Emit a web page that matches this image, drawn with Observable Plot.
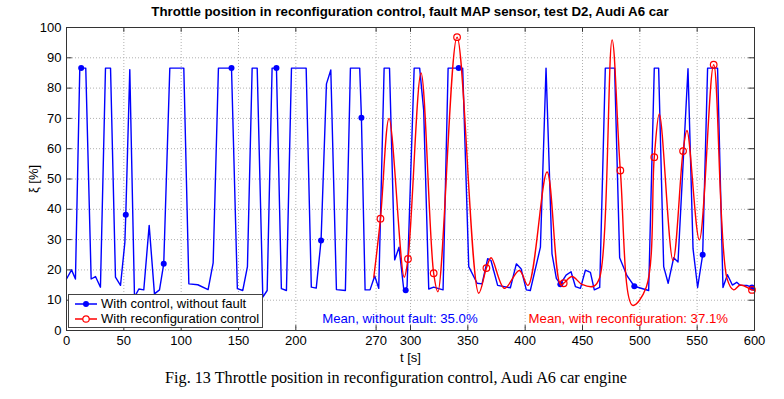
<!DOCTYPE html>
<html>
<head>
<meta charset="utf-8">
<script src="https://cdn.jsdelivr.net/npm/d3@7"></script>
<script src="https://cdn.jsdelivr.net/npm/@observablehq/plot@0.6"></script>
<style>
  body { margin: 0; background: #fff; }
  #wrap { position: relative; width: 784px; height: 399px; font-family: "Liberation Sans", Arial, sans-serif; }
  #title { position: absolute; left: 0; width: 820px; top: 4px; text-align: center; font-weight: bold; font-size: 13.3px; color: #000; }
  #caption { position: absolute; left: 0; width: 792px; top: 369px; text-align: center; font-family: "Liberation Serif", "Times New Roman", serif; font-size: 16.2px; color: #000; }
  #legend { position: absolute; left: 68px; top: 294px; width: 193px; height: 32px; border: 1px solid #444; background: #fff; font-size: 13px; }
  .row { position: absolute; left: 0; height: 15px; display: flex; align-items: center; white-space: nowrap; }
  .row svg { margin-left: 5px; margin-right: 3px; }
</style>
</head>
<body>
<div id="wrap">
  <div id="chart"></div>
  <div id="title">Throttle position in reconfiguration control, fault MAP sensor, test D2, Audi A6 car</div>
  <div id="legend">
    <div class="row" style="top:1px"><svg width="24" height="14"><line x1="1" y1="7" x2="23" y2="7" stroke="#0000ff" stroke-width="1.5"/><circle cx="12" cy="7" r="3" fill="#0000ff"/></svg><span>With control, without fault</span></div>
    <div class="row" style="top:16px"><svg width="24" height="14"><line x1="1" y1="7" x2="23" y2="7" stroke="#ff0000" stroke-width="1.5"/><circle cx="12" cy="7" r="3.2" fill="#fff" stroke="#ff0000" stroke-width="1.2"/></svg><span>With reconfiguration control</span></div>
  </div>
  <div id="caption">Fig. 13 Throttle position in reconfiguration control, Audi A6 car engine</div>
</div>
<script>
const xTicks = [0, 50, 100, 150, 200, 270, 300, 350, 400, 450, 500, 550, 600];
const yTicks = [0, 10, 20, 30, 40, 50, 60, 70, 80, 90, 100];

const blueT = [0, 4.4, 7.8, 11.6, 16.8, 21.5, 25.3, 29.6, 34.0, 38.4, 42.7, 47.1, 50.9, 51.7, 55.2, 59.3, 63.1, 67.4, 72.1, 76.7, 81.1, 84.8, 90.1, 102.3, 106.7, 114.5, 123.5, 127.9, 132.5, 143.9, 149.0, 153.7, 157.8, 161.9, 166.3, 171.2, 175.0, 179.3, 183.1, 187.4, 191.8, 196.2, 209.0, 213.5, 217.8, 222.0, 226.7, 230.5, 235.4, 243.2, 247.6, 255.7, 257.2, 260.4, 264.7, 268.8, 272.3, 277.0, 281.7, 286.2, 290.0, 294.1, 295.8, 297.0, 303.2, 308.0, 311.5, 315.9, 320.2, 328.4, 332.8, 342.0, 345.5, 350.8, 358.1, 362.4, 367.3, 370.2, 376.0, 387.1, 392.3, 396.4, 401.0, 404.5, 413.3, 418.2, 423.4, 427.2, 430.7, 435.7, 440.0, 443.8, 448.2, 452.5, 456.9, 460.3, 465.0, 469.9, 478.0, 482.4, 488.8, 495.2, 507.7, 512.6, 516.4, 520.8, 524.7, 529.5, 533.3, 542.0, 546.4, 550.4, 554.8, 559.1, 567.8, 572.5, 576.4, 580.7, 584.5, 587.4, 593.3, 597.8, 600];
const blueV = [17.0, 20.0, 17.0, 86.6, 86.6, 17.0, 17.8, 14.3, 86.6, 86.6, 17.6, 14.9, 29.1, 38.2, 86.1, 11.0, 13.7, 13.4, 34.7, 12.1, 13.4, 22.0, 86.6, 86.6, 15.4, 15.1, 13.5, 22.3, 86.6, 86.6, 13.8, 13.2, 21.1, 86.6, 86.6, 11.0, 13.2, 86.6, 86.6, 13.8, 13.2, 86.6, 86.6, 14.3, 14.0, 29.7, 81.4, 86.0, 13.5, 13.2, 86.6, 86.6, 70.2, 13.4, 13.4, 18.0, 13.9, 86.6, 86.6, 23.3, 27.5, 13.6, 13.3, 14.5, 86.6, 86.6, 72.6, 13.7, 14.3, 13.4, 86.6, 86.6, 86.6, 21.1, 15.6, 15.4, 23.7, 23.1, 14.9, 14.1, 22.0, 20.4, 13.4, 13.2, 27.5, 86.6, 25.3, 17.2, 15.3, 18.3, 19.4, 14.5, 13.9, 19.9, 19.2, 13.4, 14.2, 86.6, 86.6, 24.0, 18.1, 14.6, 13.2, 86.6, 86.6, 21.1, 15.6, 24.0, 22.6, 86.4, 27.0, 14.2, 25.0, 86.6, 86.6, 14.2, 18.4, 15.0, 15.9, 14.9, 14.9, 14.2, 14.0];

const redT = [268.0, 273.8, 281.3, 294.5, 297.8, 309.2, 320.2, 323.9, 340.6, 359.5, 366.2, 370.3, 381.9, 394.9, 402.5, 419.1, 430.7, 433.6, 440.9, 449.6, 459.8, 465.0, 475.8, 483.0, 493.7, 505.6, 512.6, 517.0, 528.9, 537.7, 541.1, 551.9, 564.4, 576.0, 581.8, 587.6, 597.8, 600];
const redV = [17.6, 36.9, 70.0, 17.6, 23.6, 85.0, 18.9, 12.8, 96.8, 12.3, 20.6, 24.0, 13.9, 19.8, 14.9, 52.3, 15.2, 15.6, 17.8, 15.2, 14.6, 17.5, 95.9, 52.8, 8.3, 14.3, 57.2, 71.5, 23.1, 59.2, 66.0, 29.9, 87.7, 17.2, 13.4, 15.0, 13.4, 13.2];

const blueMarkT = [12.8, 51.7, 84.8, 143.9, 183.1, 222.0, 257.2, 295.8, 342.0, 430.7, 495.2, 554.8, 597.8];
const blueMarkV = [86.6, 38.2, 22.0, 86.6, 86.6, 29.7, 70.2, 13.3, 86.6, 15.3, 14.6, 25.0, 14.2];
const redMarkT = [273.8, 297.8, 320.2, 340.6, 366.2, 433.6, 483.0, 512.6, 537.7, 564.4, 597.8];
const redMarkV = [36.9, 23.6, 18.9, 96.8, 20.6, 15.6, 52.8, 57.2, 59.2, 87.7, 13.4];

const meanLabels = ["Mean, without fault: 35.0%", "Mean, with reconfiguration: 37.1%"];
const meanT = [223, 403];
const meanV = [4, 4];
const meanColors = ["#0000ff", "#ff0000"];

const blue = blueT.map((t, i) => ({t, v: blueV[i]}));
const red = redT.map((t, i) => ({t, v: redV[i]}));
const blueM = blueMarkT.map((t, i) => ({t, v: blueMarkV[i]}));
const redM = redMarkT.map((t, i) => ({t, v: redMarkV[i]}));
const means = meanLabels.map((s, i) => ({s, t: meanT[i], v: meanV[i], c: meanColors[i]}));

const chart = Plot.plot({
  width: 784,
  height: 399,
  marginLeft: 66,
  marginRight: 30,
  marginTop: 27,
  marginBottom: 69,
  style: {fontFamily: "'Liberation Sans', Arial, sans-serif", fontSize: "13px", color: "#000", background: "#fff"},
  x: {domain: [0, 600]},
  y: {domain: [0, 100]},
  marks: [
    Plot.gridX(xTicks, {stroke: "#b0b0b0", strokeOpacity: 1, strokeDasharray: "1,2"}),
    Plot.gridY(yTicks, {stroke: "#b0b0b0", strokeOpacity: 1, strokeDasharray: "1,2"}),
    Plot.ruleX(xTicks, {y1: 0, y2: 1.6, stroke: "#333"}),
    Plot.ruleX(xTicks, {y1: 100, y2: 98.4, stroke: "#333"}),
    Plot.ruleY(yTicks, {x1: 0, x2: 5, stroke: "#333"}),
    Plot.ruleY(yTicks, {x1: 600, x2: 595, stroke: "#333"}),
    Plot.axisX({ticks: xTicks, tickSize: 0, tickPadding: 5, label: "t [s]", labelAnchor: "center", labelArrow: "none", labelOffset: 31, fontSize: 13}),
    Plot.axisY({ticks: yTicks, tickSize: 0, tickPadding: 5, label: "ξ [%]", labelAnchor: "center", labelArrow: "none", labelOffset: 38, fontSize: 13}),
    Plot.line(blue, {x: "t", y: "v", stroke: "#0000ff", strokeWidth: 1.4}),
    Plot.dot(blueM, {x: "t", y: "v", r: 3, fill: "#0000ff"}),
    Plot.line(red, {x: "t", y: "v", stroke: "#ff0000", strokeWidth: 1.4, curve: "catmull-rom"}),
    Plot.dot(redM, {x: "t", y: "v", r: 3.3, stroke: "#ff0000", strokeWidth: 1.2, fill: "none"}),
    Plot.text(means, {x: "t", y: "v", text: "s", fill: "c", textAnchor: "start", fontSize: 13.2}),
    Plot.frame({stroke: "#333"})
  ]
});
document.getElementById("chart").appendChild(chart);
</script>
</body>
</html>
